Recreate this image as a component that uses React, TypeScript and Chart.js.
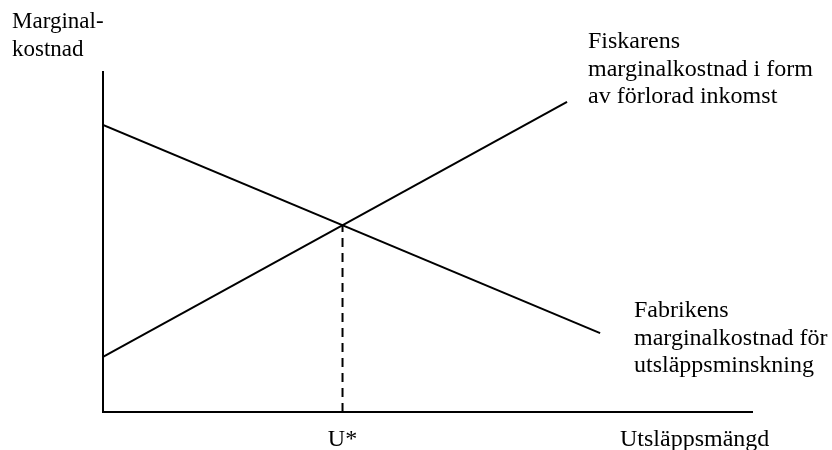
import React, { useEffect, useRef } from "react";
import { Chart, registerables } from "chart.js";

Chart.register(...registerables);

// Axis ranges (abstract units)
const xRange = [0, 100];
const yRange = [0, 100];

// Fabrikens marginalkostnad för utsläppsminskning (falling line)
const fabrikX = [0, 76.6];
const fabrikY = [84.4, 23.2];

// Fiskarens marginalkostnad i form av förlorad inkomst (rising line)
const fiskarX = [0, 71.5];
const fiskarY = [16.2, 91.2];

// Texts
const yAxisLabel = ["Marginal-", "kostnad"];
const xAxisLabel = "Utsläppsmängd";
const uStarLabel = "U*";
const fiskarLabel = ["Fiskarens", "marginalkostnad i form", "av förlorad inkomst"];
const fabrikLabel = ["Fabrikens", "marginalkostnad för", "utsläppsminskning"];

function intersection() {
  const m1 = (fabrikY[1] - fabrikY[0]) / (fabrikX[1] - fabrikX[0]);
  const m2 = (fiskarY[1] - fiskarY[0]) / (fiskarX[1] - fiskarX[0]);
  const b1 = fabrikY[0] - m1 * fabrikX[0];
  const b2 = fiskarY[0] - m2 * fiskarX[0];
  const x = (b2 - b1) / (m1 - m2);
  return { x, y: m1 * x + b1 };
}

const FAMILY = '"Liberation Serif", "Times New Roman", serif';

const labelsPlugin = {
  id: "labels",
  afterDraw(chart: any) {
    const ctx = chart.ctx as CanvasRenderingContext2D;
    const xs = chart.scales.x;
    const p = intersection();
    ctx.save();
    ctx.fillStyle = "#000";
    ctx.textBaseline = "alphabetic";
    ctx.textAlign = "left";
    const lh = 27.5;
    ctx.font = "23px " + FAMILY;
    yAxisLabel.forEach((t, i) => ctx.fillText(t, 12, 28 + i * lh));
    ctx.font = "24px " + FAMILY;
    fiskarLabel.forEach((t, i) => ctx.fillText(t, 588, 48 + i * lh));
    fabrikLabel.forEach((t, i) => ctx.fillText(t, 634, 317 + i * lh));
    ctx.fillText(xAxisLabel, 620, 446);
    ctx.textAlign = "center";
    ctx.fillText(uStarLabel, xs.getPixelForValue(p.x), 446);
    ctx.restore();
  },
};

export default function App() {
  const ref = useRef<HTMLCanvasElement>(null);
  useEffect(() => {
    const p = intersection();
    const chart = new Chart(ref.current!, {
      type: "scatter",
      data: {
        datasets: [
          {
            data: fabrikX.map((x, i) => ({ x, y: fabrikY[i] })),
            showLine: true,
            borderColor: "#000",
            borderWidth: 2,
            pointRadius: 0,
          },
          {
            data: fiskarX.map((x, i) => ({ x, y: fiskarY[i] })),
            showLine: true,
            borderColor: "#000",
            borderWidth: 2,
            pointRadius: 0,
          },
          {
            data: [
              { x: p.x, y: yRange[0] },
              { x: p.x, y: p.y },
            ],
            showLine: true,
            borderColor: "#000",
            borderWidth: 2,
            borderDash: [9, 6],
            pointRadius: 0,
          },
        ],
      },
      options: {
        animation: false,
        responsive: false,
        maintainAspectRatio: false,
        layout: { padding: { left: 103, top: 72, right: 80, bottom: 38 } },
        plugins: { legend: { display: false }, tooltip: { enabled: false } },
        scales: {
          x: {
            type: "linear",
            min: xRange[0],
            max: xRange[1],
            grid: { display: false, drawTicks: false },
            ticks: { display: false },
            border: { display: true, color: "#000", width: 2 },
          },
          y: {
            type: "linear",
            min: yRange[0],
            max: yRange[1],
            grid: { display: false, drawTicks: false },
            ticks: { display: false },
            border: { display: true, color: "#000", width: 2 },
          },
        },
      },
      plugins: [labelsPlugin],
    });
    return () => chart.destroy();
  }, []);
  return (
    <div style={{ position: "fixed", left: 0, top: 0, width: 832, height: 450, background: "#fff" }}>
      <canvas ref={ref} width={832} height={450} />
    </div>
  );
}
